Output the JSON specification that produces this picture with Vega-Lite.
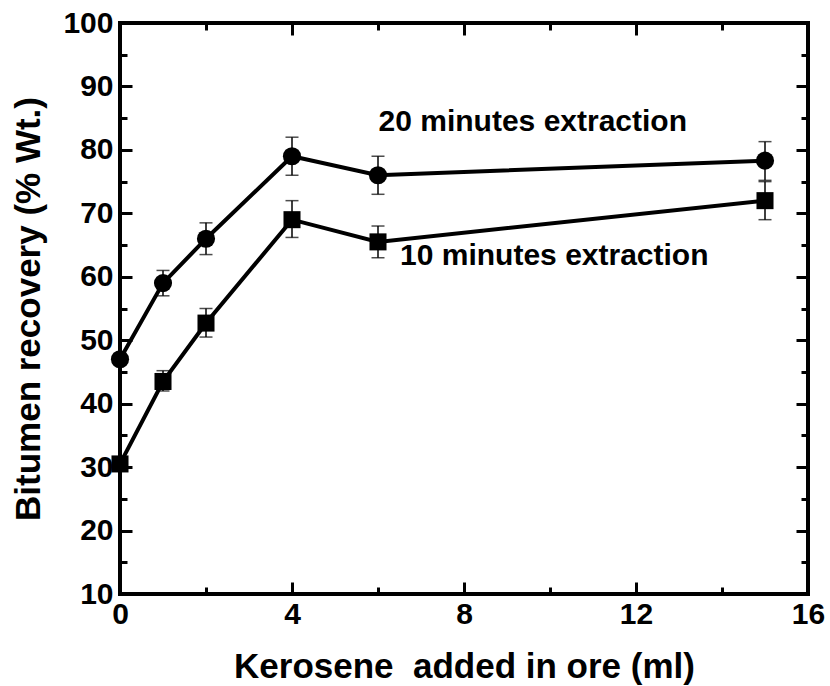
{
  "$schema": "https://vega.github.io/schema/vega-lite/v6.json",
  "width": 688,
  "height": 571,
  "autosize": "none",
  "padding": {"left": 120, "top": 23, "right": 22, "bottom": 92},
  "background": "white",
  "view": {"stroke": "black", "strokeWidth": 4},
  "config": {
    "axis": {
      "domain": false,
      "grid": false,
      "labelFlush": false,
      "tickColor": "black",
      "tickWidth": 3,
      "labelFont": "Liberation Sans",
      "labelFontWeight": "bold",
      "labelFontSize": 30,
      "labelColor": "black",
      "titleFont": "Liberation Sans",
      "titleFontWeight": "bold",
      "titleFontSize": 35,
      "titleColor": "black"
    }
  },
  "datasets": {
    "pts": [
      {"series": "20 minutes", "x": 0, "y": 47, "lo": null, "hi": null},
      {"series": "20 minutes", "x": 1, "y": 59, "lo": 57, "hi": 61},
      {"series": "20 minutes", "x": 2, "y": 66, "lo": 63.5, "hi": 68.5},
      {"series": "20 minutes", "x": 4, "y": 79, "lo": 76, "hi": 82},
      {"series": "20 minutes", "x": 6, "y": 76, "lo": 73, "hi": 79},
      {"series": "20 minutes", "x": 15, "y": 78.3, "lo": 75.2, "hi": 81.3},
      {"series": "10 minutes", "x": 0, "y": 30.5, "lo": null, "hi": null},
      {"series": "10 minutes", "x": 1, "y": 43.5, "lo": 42, "hi": 45.2},
      {"series": "10 minutes", "x": 2, "y": 52.7, "lo": 50.5, "hi": 55},
      {"series": "10 minutes", "x": 4, "y": 69, "lo": 66.2, "hi": 72},
      {"series": "10 minutes", "x": 6, "y": 65.5, "lo": 63, "hi": 68},
      {"series": "10 minutes", "x": 15, "y": 72, "lo": 69, "hi": 75}
    ],
    "notes": [
      {"label": "20 minutes extraction", "x": 9.6, "y": 84.4},
      {"label": "10 minutes extraction", "x": 10.1, "y": 63.2}
    ]
  },
  "layer": [
    {
      "data": {"name": "pts"},
      "mark": {"type": "line", "color": "black", "strokeWidth": 4},
      "encoding": {
        "x": {"field": "x", "type": "quantitative", "scale": {"domain": [0, 16], "nice": false, "zero": false},
          "axis": {"orient": "bottom", "values": [0, 4, 8, 12, 16], "tickSize": -12, "labelPadding": 17, "title": "Kerosene\u00a0 added in ore (ml)", "titlePadding": 20}},
        "y": {"field": "y", "type": "quantitative", "scale": {"domain": [10, 100], "nice": false, "zero": false},
          "axis": {"orient": "left", "values": [10, 20, 30, 40, 50, 60, 70, 80, 90, 100], "tickSize": -12, "labelPadding": 19, "title": "Bitumen recovery (% Wt.)", "titlePadding": 16}},
        "detail": {"field": "series"}
      }
    },
    {
      "data": {"name": "pts"},
      "transform": [{"filter": "isValid(datum.lo)"}],
      "mark": {"type": "rule", "color": "black", "strokeWidth": 1.5},
      "encoding": {
        "x": {"field": "x", "type": "quantitative",
          "axis": {"orient": "top", "values": [4, 8, 12], "tickSize": -12, "labels": false, "title": null}},
        "y": {"field": "lo", "type": "quantitative",
          "axis": {"orient": "right", "values": [10, 20, 30, 40, 50, 60, 70, 80, 90, 100], "tickSize": -12, "labels": false, "title": null}},
        "y2": {"field": "hi"}
      }
    },
    {
      "data": {"name": "pts"},
      "transform": [{"filter": "isValid(datum.lo)"}],
      "mark": {"type": "tick", "orient": "horizontal", "color": "black", "size": 13, "thickness": 1.5},
      "encoding": {
        "x": {"field": "x", "type": "quantitative",
          "axis": {"orient": "bottom", "values": [2, 6, 10, 14], "tickSize": -7, "labels": false, "title": null}},
        "y": {"field": "lo", "type": "quantitative",
          "axis": {"orient": "left", "values": [15, 25, 35, 45, 55, 65, 75, 85, 95], "tickSize": -7, "labels": false, "title": null}}
      }
    },
    {
      "data": {"name": "pts"},
      "transform": [{"filter": "isValid(datum.hi)"}],
      "mark": {"type": "tick", "orient": "horizontal", "color": "black", "size": 13, "thickness": 1.5},
      "encoding": {
        "x": {"field": "x", "type": "quantitative",
          "axis": {"orient": "top", "values": [2, 6, 10, 14], "tickSize": -7, "labels": false, "title": null}},
        "y": {"field": "hi", "type": "quantitative",
          "axis": {"orient": "right", "values": [15, 25, 35, 45, 55, 65, 75, 85, 95], "tickSize": -7, "labels": false, "title": null}}
      }
    },
    {
      "data": {"name": "pts"},
      "mark": {"type": "point", "filled": true, "color": "black", "opacity": 1},
      "encoding": {
        "x": {"field": "x", "type": "quantitative", "axis": null},
        "y": {"field": "y", "type": "quantitative", "axis": null},
        "shape": {"field": "series", "type": "nominal", "scale": {"domain": ["20 minutes", "10 minutes"], "range": ["circle", "square"]}, "legend": null},
        "size": {"field": "series", "type": "nominal", "scale": {"domain": ["20 minutes", "10 minutes"], "range": [330, 290]}, "legend": null}
      }
    },
    {
      "data": {"name": "notes"},
      "mark": {"type": "text", "font": "Liberation Sans", "fontWeight": "bold", "fontSize": 30, "color": "black", "align": "center", "baseline": "middle"},
      "encoding": {
        "x": {"field": "x", "type": "quantitative", "axis": null},
        "y": {"field": "y", "type": "quantitative", "axis": null},
        "text": {"field": "label"}
      }
    }
  ],
  "resolve": {"axis": {"x": "independent", "y": "independent"}}
}
